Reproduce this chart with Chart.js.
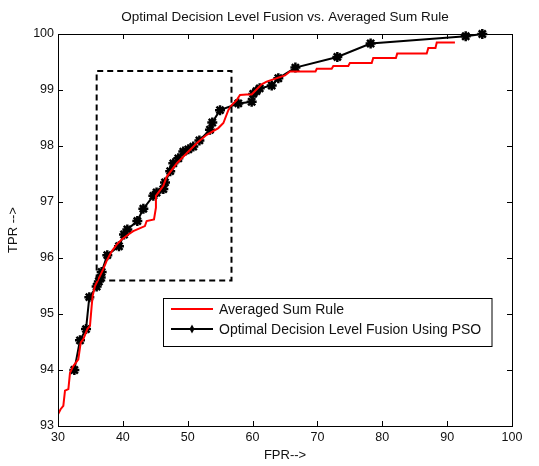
<!DOCTYPE html>
<html><head><meta charset="utf-8">
<script src="https://cdn.jsdelivr.net/npm/chart.js@4.4.0/dist/chart.umd.min.js"></script>
<style>html,body{margin:0;padding:0;background:#fff;}#wrap{width:539px;height:466px;}</style>
</head><body><div id="wrap"><canvas id="c" width="539" height="466"></canvas></div>
<script>
const chartTitle = 'Optimal Decision Level Fusion vs. Averaged Sum Rule';
const xLabel = 'FPR-->';
const yLabel = 'TPR -->';
const xTicks = [30, 40, 50, 60, 70, 80, 90, 100];
const yTicks = [93, 94, 95, 96, 97, 98, 99, 100];
const seriesNames = ['Averaged Sum Rule', 'Optimal Decision Level Fusion Using PSO'];

const sumRuleFPR = [30.0,30.4,30.82,31.08,31.6,31.85,32.36,33.13,33.5,33.9,34.52,34.93,35.19,35.34,35.7,36.48,36.98,37.5,38.28,39.05,39.82,40.85,41.6,43.4,43.67,44.8,45.1,45.1,46.24,46.75,48.3,49.84,51.38,52.93,54.72,55.5,56.26,56.78,57.55,58.06,59.09,59.86,61.4,62.17,65.0,65.77,69.7,69.9,72.2,72.45,74.76,75.0,78.37,78.6,82.1,82.3,86.85,87.1,88.2,88.4,91.2];
const sumRuleTPR = [93.21,93.3,93.36,93.63,93.66,93.95,94.07,94.19,94.49,94.55,94.73,94.79,95.14,95.32,95.5,95.68,95.8,95.95,96.12,96.24,96.33,96.42,96.48,96.57,96.66,96.69,96.9,97.11,97.29,97.45,97.69,97.87,98.05,98.2,98.32,98.41,98.64,98.73,98.82,98.91,98.92,98.92,99.1,99.15,99.26,99.33,99.33,99.38,99.38,99.43,99.43,99.48,99.48,99.57,99.57,99.65,99.65,99.75,99.75,99.85,99.85];

const psoFPR = [32.52,33.39,34.32,34.83,35.96,36.3,36.58,36.73,37.6,39.4,40.18,40.69,42.23,43.16,44.7,45.2,46.24,46.5,47.3,47.78,48.55,49.32,50.1,50.86,51.8,53.43,53.79,54.98,57.8,59.86,60.1,60.6,61.1,62.95,63.97,66.6,73.07,78.2,92.86,95.42];
const psoTPR = [94.0,94.53,94.73,95.30,95.49,95.58,95.65,95.75,96.05,96.21,96.42,96.51,96.66,96.88,97.11,97.17,97.23,97.35,97.55,97.69,97.78,97.9,97.94,97.99,98.1,98.29,98.42,98.64,98.76,98.79,98.93,98.98,99.03,99.08,99.21,99.4,99.59,99.83,99.96,100.0];

const boxFPR = [35.96, 35.96, 56.75, 56.75, 35.96];
const boxTPR = [95.6, 99.34, 99.34, 95.6, 95.6];

const zip = (xs, ys) => xs.map((v, i) => ({x: v, y: ys[i]}));
const FONT = "'Liberation Sans', Arial, sans-serif";

const frame = {
  id: 'frame',
  afterDatasetsDraw(chart) {
    const {ctx, chartArea: a, scales: {x, y}} = chart;
    ctx.save();
    ctx.strokeStyle = '#000';
    ctx.lineWidth = 1;
    ctx.strokeRect(a.left + 0.5, a.top + 0.5, a.right - a.left, a.bottom - a.top);
    const L = 5;
    ctx.beginPath();
    x.ticks.forEach(t => {
      const px = Math.round(x.getPixelForValue(t.value)) + 0.5;
      ctx.moveTo(px, a.bottom); ctx.lineTo(px, a.bottom - L);
      ctx.moveTo(px, a.top); ctx.lineTo(px, a.top + L);
    });
    y.ticks.forEach(t => {
      const py = Math.round(y.getPixelForValue(t.value)) + 0.5;
      ctx.moveTo(a.left, py); ctx.lineTo(a.left + L, py);
      ctx.moveTo(a.right, py); ctx.lineTo(a.right - L, py);
    });
    ctx.stroke();
    ctx.restore();
  }
};

const boxLegend = {
  id: 'boxLegend',
  afterDraw(chart) {
    const ctx = chart.ctx;
    const items = chart.data.datasets.filter(d => d.inLegend);
    const Lx = 163.5, T = 298, R = 492, B = 346;
    ctx.save();
    ctx.fillStyle = '#fff';
    ctx.fillRect(Lx, T, R - Lx, B - T);
    ctx.strokeStyle = '#000';
    ctx.lineWidth = 1;
    ctx.strokeRect(Lx, T + 0.5, R - Lx, B - T);
    items.forEach((d, i) => {
      const yy = 309 + i * 20;
      ctx.strokeStyle = d.borderColor;
      ctx.lineWidth = d.borderWidth;
      ctx.beginPath(); ctx.moveTo(171, yy); ctx.lineTo(213, yy); ctx.stroke();
      if (d.pointRadius > 0) {
        ctx.fillStyle = '#000';
        ctx.beginPath();
        ctx.moveTo(192, yy - 4.5); ctx.lineTo(194.5, yy); ctx.lineTo(192, yy + 4.5); ctx.lineTo(189.5, yy);
        ctx.closePath(); ctx.fill();
      }
      ctx.fillStyle = '#111';
      ctx.font = '14px ' + FONT;
      ctx.textBaseline = 'middle';
      ctx.textAlign = 'left';
      ctx.fillText(d.label, 219, yy + 1);
    });
    ctx.restore();
  }
};

new Chart(document.getElementById('c'), {
  type: 'line',
  data: {
    datasets: [
      {label: 'box', data: zip(boxFPR, boxTPR), borderColor: '#000', borderWidth: 2, borderDash: [6, 4], pointRadius: 0, fill: false, tension: 0},
      {label: seriesNames[0], inLegend: true, data: zip(sumRuleFPR, sumRuleTPR), borderColor: '#ff0000', borderWidth: 2, pointRadius: 0, fill: false, tension: 0},
      {label: seriesNames[1], inLegend: true, data: zip(psoFPR, psoTPR), borderColor: '#000', borderWidth: 2, pointRadius: 5, pointStyle: 'star', pointBorderWidth: 2.5, pointBackgroundColor: '#000', pointBorderColor: '#000', fill: false, tension: 0, clip: 8}
    ]
  },
  options: {
    responsive: false,
    animation: false,
    layout: {padding: {left: 0, right: 27, top: 0, bottom: 0}},
    plugins: {
      legend: {display: false},
      tooltip: {enabled: false},
      title: {display: true, text: chartTitle, fullSize: false, color: '#111', font: {family: FONT, size: 13.5, weight: 'normal', lineHeight: 1.2}, padding: {top: 9, bottom: 8.8}}
    },
    scales: {
      x: {
        type: 'linear', min: 30, max: 100,
        afterBuildTicks: s => { s.ticks = xTicks.map(v => ({value: v})); },
        afterFit: s => { s.height = 40; },
        grid: {display: false, drawTicks: false},
        border: {display: false},
        ticks: {color: '#111', padding: 4, font: {family: FONT, size: 12.5}, maxRotation: 0},
        title: {display: true, text: xLabel, color: '#111', font: {family: FONT, size: 13}, padding: {top: 0, bottom: 3}}
      },
      y: {
        type: 'linear', min: 93, max: 100,
        afterBuildTicks: s => { s.ticks = yTicks.map(v => ({value: v})); },
        afterFit: s => { s.width = 58; },
        grid: {display: false, drawTicks: false},
        border: {display: false},
        ticks: {color: '#111', padding: 4, font: {family: FONT, size: 12.5}},
        title: {display: true, text: yLabel, color: '#111', font: {family: FONT, size: 13}, padding: {top: 6, bottom: 0}}
      }
    }
  },
  plugins: [frame, boxLegend]
});
</script>
</body></html>
